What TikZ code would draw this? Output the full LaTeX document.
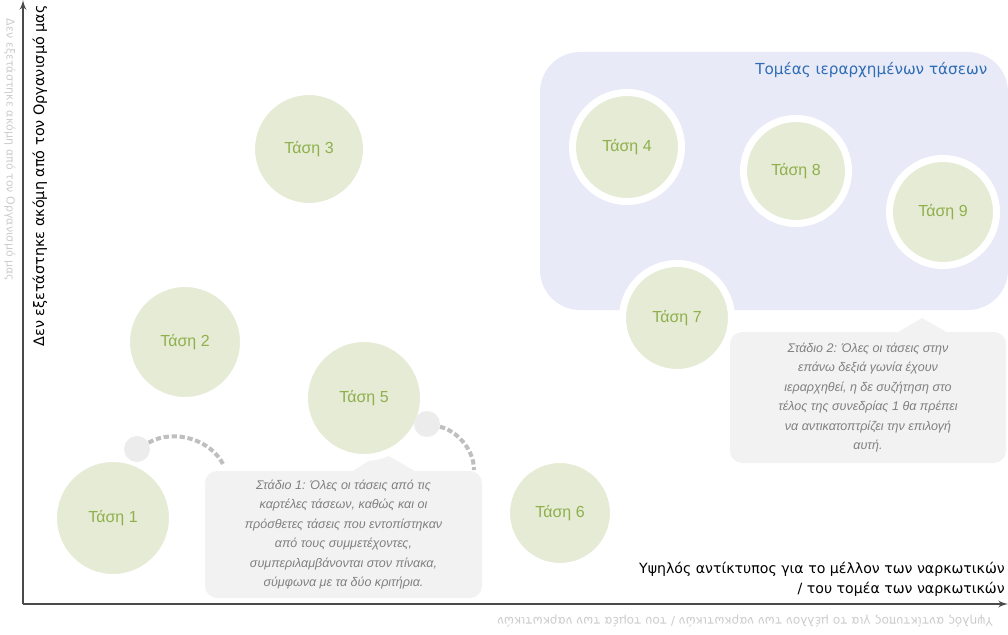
\documentclass[tikz,border=0pt]{standalone}
\usepackage{fontspec}
\setmainfont{Liberation Sans}
\newfontfamily\dejavu{DejaVu Sans}
\usetikzlibrary{arrows}
\definecolor{tasifill}{HTML}{E5EBD4}
\definecolor{tasitext}{HTML}{8FB04C}
\definecolor{zonefill}{HTML}{E9EAF8}
\definecolor{zonetext}{HTML}{2E6DB4}
\definecolor{axisgray}{HTML}{4A4A4A}

\begin{document}
\begin{tikzpicture}[x=0.75pt,y=-0.75pt]

\tikzset{tasi/.style = {shape=circle, fill=tasifill, draw=white, line width=5.25pt, text=tasitext, font=\fontsize{12}{14}\selectfont, minimum size=#1}}
\tikzset{stadio/.style = {fill=gray!10, rounded corners=9pt, text=gray, font=\fontsize{9.4}{14.6}\selectfont\itshape, align=center, inner sep=0pt}}
\tikzset{dotline/.style = {gray!50, line width=3pt, dash pattern=on 4pt off 2pt}}
\tikzset{axis/.style = {axisgray, line width=1.5pt, ->, > = latex'}}
\useasboundingbox (0,0) rectangle (1008,635);
%zone
\node[fill=zonefill, rounded corners=30pt, minimum width=351pt, minimum height=193.5pt] (zone) at (774,181) {};
\node[anchor=east, text=zonetext, font=\dejavu\fontsize{11.4}{13}\selectfont] (zonetitle) at (992,70) {Τομέας ιεραρχημένων τάσεων};
%axes
\coordinate (o) at (23,604);
\coordinate (ytop) at (23,0);
\coordinate (xend) at (1008,604);
\draw[axis] (o) -- (ytop);
\draw[axis] (o) -- (xend);
\node[rotate=90, font=\dejavu\fontsize{10.8}{13}\selectfont] (ylabel) at (40,176) {Δεν εξετάστηκε ακόμη από τον Οργανισμό μας};
\node[rotate=-90, text=gray!40, font=\dejavu\fontsize{8.3}{10}\selectfont] (yshadow) at (10,150) {Δεν εξετάστηκε ακόμη από τον Οργανισμό μας};
\node[anchor=south east, align=right, inner sep=0pt, font=\dejavu\fontsize{10.6}{15}\selectfont] (xlabel) at (1005,597) {Υψηλός αντίκτυπος για το μέλλον των ναρκωτικών\\/ του τομέα των ναρκωτικών};
\node[rotate=180, text=gray!40, font=\dejavu\fontsize{9.1}{11}\selectfont] (xshadow) at (745,621) {Υψηλός αντίκτυπος για το μέλλον των ναρκωτικών / του τομέα των ναρκωτικών};
%stages
\node[stadio, minimum width=207.75pt, minimum height=95.25pt] (stadio1) at (343.5,534.5) {Στάδιο 1: Όλες οι τάσεις από τις\\καρτέλες τάσεων, καθώς και οι\\πρόσθετες τάσεις που εντοπίστηκαν\\από τους συμμετέχοντες,\\συμπεριλαμβάνονται στον πίνακα,\\σύμφωνα με τα δύο κριτήρια.};
\fill[gray!10] (350,473) -- (382,452) -- (418,473) -- cycle;
\node[stadio, minimum width=207pt, minimum height=98.25pt] (stadio2) at (868,397.5) {Στάδιο 2: Όλες οι τάσεις στην\\επάνω δεξιά γωνία έχουν\\ιεραρχηθεί, η δε συζήτηση στο\\τέλος της συνεδρίας 1 θα πρέπει\\να αντικατοπτρίζει την επιλογή\\αυτή.};
\fill[gray!10] (895,334) -- (922,318) -- (950,334) -- cycle;
%trends
\node[tasi=89.25pt] (t1) at (113,518) {Τάση 1};
\node[tasi=87.75pt] (t2) at (185,342) {Τάση 2};
\node[tasi=86.25pt] (t3) at (309,149) {Τάση 3};
\node[tasi=81.75pt] (t4) at (627,147) {Τάση 4};
\node[tasi=89.25pt] (t5) at (364,398) {Τάση 5};
\node[tasi=80.25pt] (t6) at (560,513) {Τάση 6};
\node[tasi=81.75pt] (t7) at (677,318) {Τάση 7};
\node[tasi=78.75pt] (t8) at (796,171) {Τάση 8};
\node[tasi=80.25pt] (t9) at (943,212) {Τάση 9};
%dots
\node[circle, fill=gray!15, minimum size=19.5pt, inner sep=0pt] (dot1) at (137,449) {};
\node[circle, fill=gray!15, minimum size=19.5pt, inner sep=0pt] (dot2) at (427,424) {};
\coordinate (end1) at (224,466);
\coordinate (end2) at (474,470);
\draw[dotline] (dot1) .. controls (175,428) and (212,440) .. (end1);
\draw[dotline] (dot2) .. controls (455,430) and (474,448) .. (end2);

\end{tikzpicture}
\end{document}
